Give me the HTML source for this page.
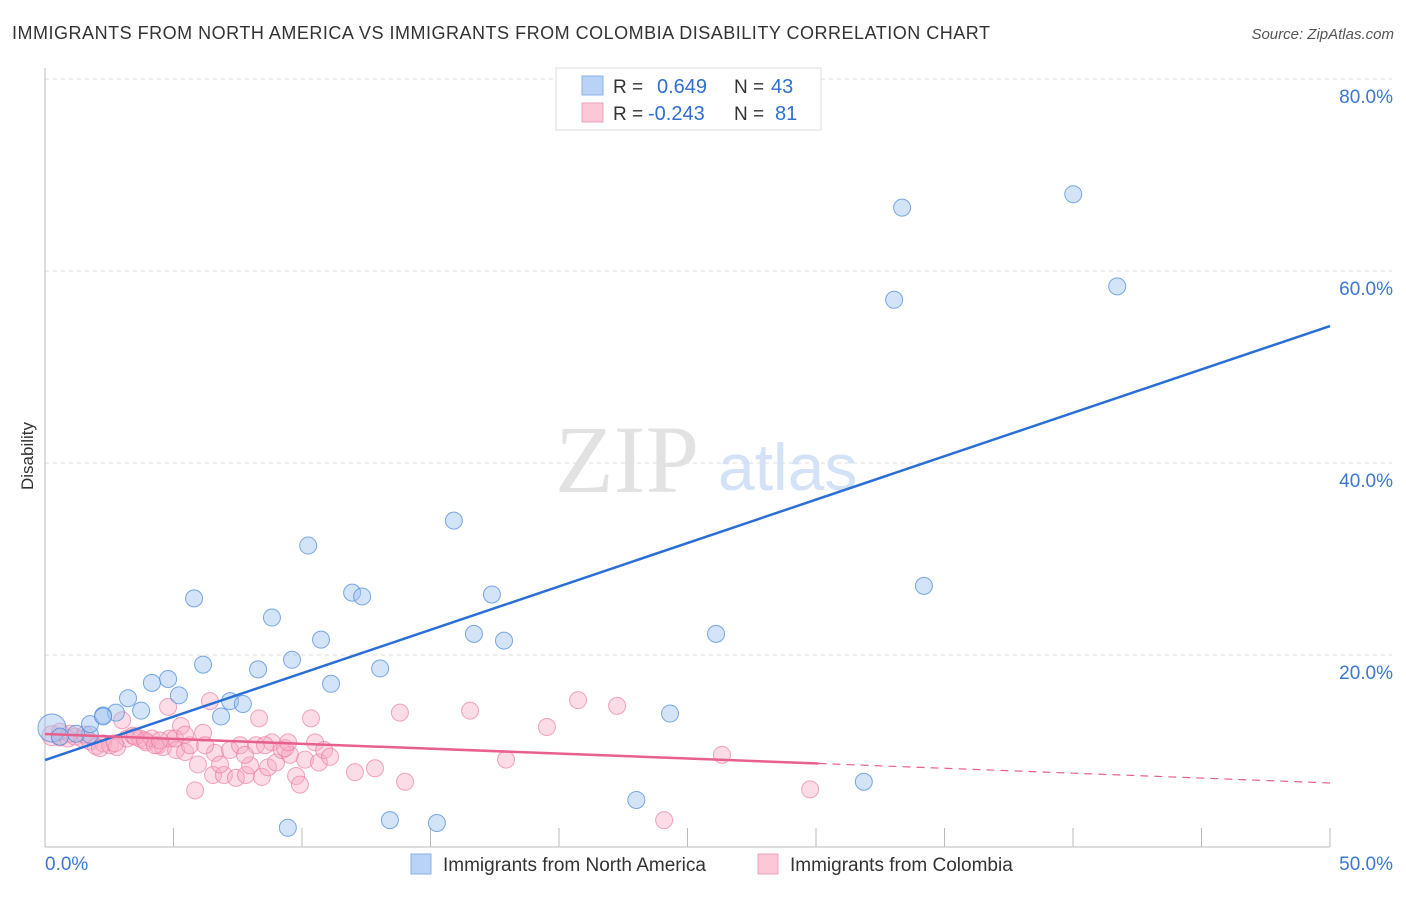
<!DOCTYPE html>
<html><head><meta charset="utf-8"><style>
body{margin:0;background:#fff;font-family:"Liberation Sans",sans-serif;}
</style></head><body>
<svg width="1406" height="892" xmlns="http://www.w3.org/2000/svg" style="font-family:'Liberation Sans',sans-serif">
<text x="12" y="39" font-size="18" fill="#333" textLength="978" lengthAdjust="spacing">IMMIGRANTS FROM NORTH AMERICA VS IMMIGRANTS FROM COLOMBIA DISABILITY CORRELATION CHART</text>
<text x="1394" y="39" font-size="15" fill="#555" font-style="italic" text-anchor="end">Source: ZipAtlas.com</text>
<g id="grid"></g>
<g id="axes"></g>
<text x="555" y="492" font-size="96" fill="#e2e2e2" font-family="Liberation Serif,serif">ZIP</text>
<text x="718" y="490" font-size="66" fill="#d3e2f6">atlas</text>
<text x="33" y="456" font-size="17" fill="#333" transform="rotate(-90 33 456)" text-anchor="middle">Disability</text>
<g id="pts"></g>
<g id="lines"></g>
<g>
<rect x="556" y="68" width="265" height="62" fill="#fff" stroke="#ddd"/>
<rect x="582" y="76" width="21" height="19" fill="#b8d3f5" stroke="#8ab2e6"/>
<rect x="582" y="103" width="21" height="19" fill="#fcc8d8" stroke="#f0a0b8"/>
<text x="613" y="93" font-size="19" fill="#333">R =</text><text x="657" y="93" font-size="20" fill="#2f6fd0">0.649</text>
<text x="734" y="93" font-size="19" fill="#333">N =</text><text x="771" y="93" font-size="20" fill="#2f6fd0">43</text>
<text x="613" y="120" font-size="19" fill="#333">R =</text><text x="648" y="120" font-size="20" fill="#2f6fd0">-0.243</text>
<text x="734" y="120" font-size="19" fill="#333">N =</text><text x="775" y="120" font-size="20" fill="#2f6fd0">81</text>
</g>
<g>
<rect x="411" y="854" width="20" height="20" fill="#b8d3f5" stroke="#8ab2e6"/>
<text x="443" y="871" font-size="19" fill="#333">Immigrants from North America</text>
<rect x="758" y="854" width="20" height="20" fill="#fcc8d8" stroke="#f0a0b8"/>
<text x="790" y="871" font-size="19" fill="#333">Immigrants from Colombia</text>
</g>
</svg>
<script>
const yTicks=[20,40,60,80];
const yTickLabels=["20.0%","40.0%","60.0%","80.0%"];
const xTickLabels=["0.0%","50.0%"];
const naX=[0.27,1.75,2.26,1.75,33.04,33.35,40.01,41.72,34.2,26.11,24.32,31.86,23.01,15.91,10.24,11.95,12.34,17.39,16.69,17.86,5.8,8.83,10.74,9.61,6.15,8.29,13.04,11.13,4.79,4.16,5.21,3.23,7.2,7.7,6.85,3.74,2.76,2.26,1.21,0.58,9.45,13.42,15.25];
const naY=[12.4,11.7,13.7,12.8,57.0,66.6,68.0,58.4,27.2,22.2,13.9,6.8,4.9,34.0,31.4,26.5,26.1,26.3,22.2,21.5,25.9,23.9,21.6,19.5,19.0,18.5,18.6,17.0,17.5,17.1,15.8,15.5,15.2,14.9,13.6,14.2,14.0,13.6,11.8,11.5,2.0,2.8,2.5];
const coX=[0.27,0.58,0.89,1.17,1.44,1.75,1.98,2.26,2.53,2.8,3.0,3.19,3.42,3.7,3.93,4.16,4.4,4.59,4.79,4.86,5.1,5.29,5.45,5.64,5.84,5.95,6.15,6.42,6.54,6.61,6.96,7.2,7.43,7.59,7.82,7.98,8.21,8.33,8.44,8.68,8.83,8.99,9.22,9.53,9.77,9.92,10.12,10.35,10.51,10.66,10.86,11.09,12.06,12.84,13.81,14.01,16.54,17.94,19.53,20.74,22.26,26.34,29.77,24.09,0.58,0.97,1.56,2.14,2.72,3.5,3.89,4.28,5.06,5.45,6.81,7.78,8.56,9.34,9.46,6.23,4.47];
const coY=[11.6,11.4,11.3,11.5,11.3,11.0,10.5,10.8,10.6,10.4,13.2,11.3,11.6,11.3,10.9,11.3,10.6,10.4,14.6,11.3,10.1,12.6,9.9,10.6,5.9,8.6,11.9,15.2,7.5,9.8,7.5,10.1,7.2,10.6,7.5,8.5,10.6,13.4,7.3,8.3,10.9,8.8,10.1,9.6,7.4,6.5,9.1,13.4,10.9,8.8,10.1,9.4,7.8,8.2,14.0,6.8,14.2,9.1,12.5,15.3,14.7,9.6,6.0,2.8,12.0,11.8,11.7,10.3,10.8,11.5,11.1,10.6,11.3,11.7,8.6,9.6,10.6,10.3,10.9,10.6,11.1];
const naLine=[9.06,54.27], coLine=[11.77,6.67], coSolidEnd=30.1;
const X=v=>45+v/50*1285, Y=v=>847-v*9.6;
const NS="http://www.w3.org/2000/svg";
function mk(t,a,p){const e=document.createElementNS(NS,t);for(const k in a)e.setAttribute(k,a[k]);p.appendChild(e);return e;}
const grid=document.getElementById('grid'),axes=document.getElementById('axes'),pts=document.getElementById('pts'),lines=document.getElementById('lines');
yTicks.forEach((t,i)=>{
 const l=mk('line',{x1:45,x2:1392,y1:Y(t),y2:Y(t),stroke:'#ddd','stroke-dasharray':'4,4'},grid);
 
 
 const tx=mk('text',{x:1393,y:Y(t)+24,'font-size':19,fill:'#3a78d4','text-anchor':'end'},axes);
 tx.textContent=yTickLabels[i];
 
 
});
mk('line',{x1:45,x2:45,y1:68,y2:847,stroke:'#bbb'},axes);
mk('line',{x1:45,x2:1330,y1:847,y2:847,stroke:'#bbb'},axes);
for(let i=1;i<=10;i++){mk('line',{x1:X(i*5),x2:X(i*5),y1:828,y2:847,stroke:'#bbb'},axes);}
[[0,45,'start'],[50,1393,'end']].forEach((d,i)=>{const t=mk('text',{x:d[1],y:870,'font-size':19,fill:'#3a78d4','text-anchor':d[2]},axes);t.textContent=xTickLabels[i];
 
 });
coX.forEach((x,i)=>{const c=mk('circle',{cx:X(x),cy:Y(coY[i]),r:i==0?10:8.5,fill:'rgba(248,170,195,0.4)',stroke:'rgba(235,120,160,0.65)','stroke-width':1},pts);
 
 });
naX.forEach((x,i)=>{const c=mk('circle',{cx:X(x),cy:Y(naY[i]),r:i==0?14:8.5,fill:'rgba(160,195,240,0.45)',stroke:'rgba(80,140,220,0.75)','stroke-width':1},pts);
 
 });
let l=mk('line',{x1:X(0),y1:Y(naLine[0]),x2:X(50),y2:Y(naLine[1]),stroke:'#2a6fd6','stroke-width':2.5},lines);


const cy=x=>coLine[0]+(coLine[1]-coLine[0])*x/50;
l=mk('line',{x1:X(0),y1:Y(cy(0)),x2:X(coSolidEnd),y2:Y(cy(coSolidEnd)),stroke:'#e8608e','stroke-width':2.5},lines);


l=mk('line',{x1:X(coSolidEnd),y1:Y(cy(coSolidEnd)),x2:X(50),y2:Y(cy(50)),stroke:'#e8608e','stroke-width':1.2,'stroke-dasharray':'8,6'},lines);


</script>
</body></html>
